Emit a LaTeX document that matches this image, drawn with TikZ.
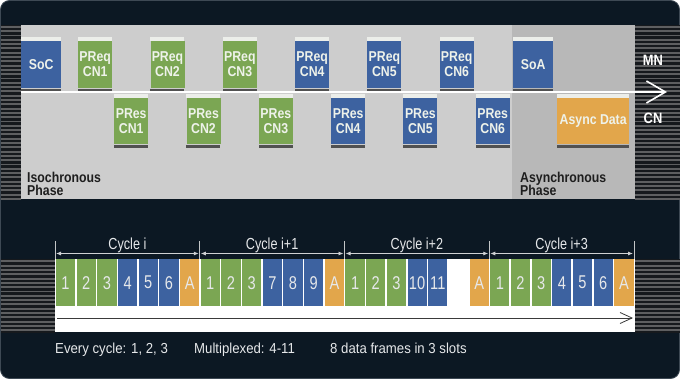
\documentclass[tikz,border=0pt]{standalone}
\usepackage{fontspec}
\setmainfont{Liberation Sans}[FakeStretch=0.86]
\newfontfamily\cycfont{Liberation Sans}[FakeStretch=0.79]
\newfontfamily\notefont{Liberation Sans}[FakeStretch=0.91]
\usetikzlibrary{arrows.meta}
\definecolor{navy}{HTML}{0C1823}
\definecolor{frameline}{HTML}{3E4954}
\definecolor{panel}{HTML}{CDCDCD}
\definecolor{asyncbg}{HTML}{B8B8B8}
\definecolor{bblue}{HTML}{3D62A0}
\definecolor{bgreen}{HTML}{7BA653}
\definecolor{borange}{HTML}{E2A64B}
\definecolor{capc}{HTML}{ECEEEA}
\definecolor{barc}{HTML}{515151}
\definecolor{stripeg}{HTML}{5E5F61}
\definecolor{striped}{HTML}{16191D}
\definecolor{txtlight}{HTML}{EEF2EA}
\definecolor{txtdark}{HTML}{1E1E1E}
\definecolor{soft}{HTML}{E6E8EA}
\definecolor{tline}{HTML}{3A3A3A}

\tikzset{
  boxbody/.style={inner sep=0pt, draw=none, text=txtlight, align=center,
    font=\bfseries\fontsize{14.3}{15}\selectfont},
  phase/.style={inner sep=0pt, text=txtdark, anchor=base west,
    font=\bfseries\fontsize{14.3}{15}\selectfont},
  side/.style={inner sep=0pt, text=white, anchor=base,
    font=\bfseries\fontsize{15}{16}\selectfont},
  slot/.style={inner sep=0pt, draw=none, anchor=north west, minimum width=19.2pt,
    minimum height=47pt, text=soft, font=\cycfont\fontsize{18.5}{19}\selectfont},
  cyc/.style={inner sep=0pt, text=soft, anchor=base, font=\cycfont\fontsize{16}{17}\selectfont},
  note/.style={inner sep=0pt, text=soft, anchor=base west, font=\notefont\fontsize{14.5}{16}\selectfont},
  divider/.style={draw=soft!85!black, line width=0.8pt},
  dim/.style={draw=soft!90!black, line width=0.8pt, {Latex[length=5pt,width=4pt]}-{Latex[length=5pt,width=4pt]},
    shorten <=1pt, shorten >=1pt},
  mainline/.style={draw=white, line width=2pt, -{Straight Barb[length=19pt,width=22pt,line width=1.6pt]}},
  timeline/.style={draw=tline, line width=0.8pt, -{Straight Barb[length=12pt,width=11pt,line width=0.8pt]}}
}

% name, x, cap top y, width, body height, colour, text
\newcommand\mkbox[7]{%
  \fill[capc] (#2,#3) rectangle ++(#4,4);
  \node[boxbody, fill=#6, minimum width=#4pt, minimum height=#5pt, anchor=north west] (#1) at (#2,#3+4) {#7};
  \fill[barc] ([yshift=-1pt]#1.south west) rectangle ++(#4,3);
}

\begin{document}
\begin{tikzpicture}[x=1pt,y=-1pt]
\useasboundingbox (0,0) rectangle (680,379);
\fill[white] (0,0) rectangle (680,379);
\filldraw[fill=navy, draw=frameline, line width=0.8pt, rounded corners=9pt] (0.5,0.5) rectangle (679.5,378.5);

% striped side bands (top)
\fill[striped] (1,25) rectangle (21,199);
\fill[striped] (635,25) rectangle (679.5,199);
\foreach \k in {0,...,40}{
  \fill[stripeg] (1,{26+4.3*\k}) rectangle (21,{27.9+4.3*\k});
  \fill[stripeg] (635,{26+4.3*\k}) rectangle (679.5,{27.9+4.3*\k});
}
% striped side bands (bottom)
\fill[striped] (1,259) rectangle (55,333);
\fill[striped] (635,259) rectangle (679.5,333);
\foreach \k in {0,...,16}{
  \fill[stripeg] (1,{260.5+4.3*\k}) rectangle (55,{262.4+4.3*\k});
  \fill[stripeg] (635,{260.5+4.3*\k}) rectangle (679.5,{262.4+4.3*\k});
}

% top panel
\fill[panel] (21,25) rectangle (635,199);
\fill[asyncbg] (512,25) rectangle (635,199);

% top row (MN)
\mkbox{soc}{21}{37}{40}{46.5}{bblue}{SoC}
\mkbox{rq1}{78}{37}{34}{46.5}{bgreen}{PReq\\CN1}
\mkbox{rq2}{150.3}{37}{34}{46.5}{bgreen}{PReq\\CN2}
\mkbox{rq3}{222.6}{37}{34}{46.5}{bgreen}{PReq\\CN3}
\mkbox{rq4}{295}{37}{34}{46.5}{bblue}{PReq\\CN4}
\mkbox{rq5}{367.2}{37}{34}{46.5}{bblue}{PReq\\CN5}
\mkbox{rq6}{439.5}{37}{34}{46.5}{bblue}{PReq\\CN6}
\mkbox{soa}{513}{37}{40}{46.5}{bblue}{SoA}
% bottom row (CN)
\mkbox{rs1}{114}{94}{34}{46}{bgreen}{PRes\\CN1}
\mkbox{rs2}{186.3}{94}{34}{46}{bgreen}{PRes\\CN2}
\mkbox{rs3}{258.6}{94}{34}{46}{bgreen}{PRes\\CN3}
\mkbox{rs4}{331}{94}{34}{46}{bblue}{PRes\\CN4}
\mkbox{rs5}{403.2}{94}{34}{46}{bblue}{PRes\\CN5}
\mkbox{rs6}{475.5}{94}{34}{46}{bblue}{PRes\\CN6}
\mkbox{asy}{557}{94}{72}{46}{borange}{Async Data}

% bus line with arrow
\coordinate (busL) at (21,92);
\coordinate (busR) at (667,92);
\draw[mainline] (busL) -- (busR);
\node[side] (mn) at (653,66) {MN};
\node[side] (cn) at (653,124) {CN};

\node[phase] (iso1) at (27,182.7) {Isochronous};
\node[phase] (iso2) at (27,196) {Phase};
\node[phase] (asp1) at (520,182.7) {Asynchronous};
\node[phase] (asp2) at (520,196) {Phase};

% timeline band
\fill[white] (55,259) rectangle (635,332);
\foreach \i/\c/\t in {0/bgreen/1,1/bgreen/2,2/bgreen/3,3/bblue/4,4/bblue/5,5/bblue/6,6/borange/A,
  7/bgreen/1,8/bgreen/2,9/bgreen/3,10/bblue/7,11/bblue/8,12/bblue/9,13/borange/A,
  14/bgreen/1,15/bgreen/2,16/bgreen/3,17/bblue/10,18/bblue/11,20/borange/A,
  21/bgreen/1,22/bgreen/2,23/bgreen/3,24/bblue/4,25/bblue/5,26/bblue/6,27/borange/A}{
  \node[slot, fill=\c] (s\i) at ({55+20.68*\i+0.75},259) {\t};
}

% cycle dividers, dimension arrows and labels
\foreach \k in {0,...,4}{
  \coordinate (t\k) at ({55+144.75*\k},241);
  \coordinate (a\k) at ({55+144.75*\k},253.5);
  \draw[divider] (t\k) -- ++(0,18);
}
\foreach \k/\lab in {0/{Cycle i},1/{Cycle i+1},2/{Cycle i+2},3/{Cycle i+3}}{
  \pgfmathtruncatemacro\kk{\k+1}
  \draw[dim] (a\k) -- (a\kk);
  \node[cyc] (c\k) at ({55+144.75*\k+72.4},249.3) {\lab};
}

% time arrow
\coordinate (tlL) at (57,318);
\coordinate (tlR) at (633,318);
\draw[timeline] (tlL) -- (tlR);

% notes
\node[note] (n1) at (55,353.5) {Every cycle: 1, 2, 3};
\node[note] (n2) at (194,353.5) {Multiplexed: 4-11};
\node[note] (n3) at (330,353.5) {8 data frames in 3 slots};
\end{tikzpicture}
\end{document}
